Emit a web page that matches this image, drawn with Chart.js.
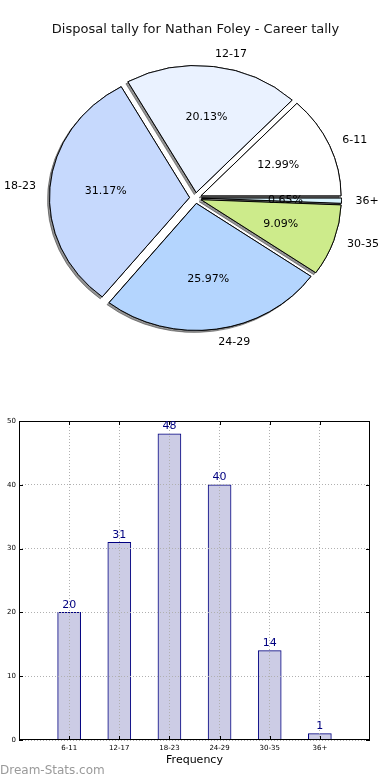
<!DOCTYPE html>
<html>
<head>
<meta charset="utf-8">
<script src="https://cdn.jsdelivr.net/npm/chart.js@4.4.1/dist/chart.umd.min.js"></script>
<style>
  html, body { margin: 0; padding: 0; background: #fff; }
  body { width: 390px; height: 780px; position: relative; overflow: hidden; }
  #pieBox { position: absolute; left: 0; top: 0; width: 390px; height: 400px; }
  #barBox { position: absolute; left: 0; top: 400px; width: 390px; height: 380px; }
  #mark { position: absolute; left: 0; top: 763px; font: 12px/14px "DejaVu Sans", sans-serif; color: #9a9a9a; }
</style>
</head>
<body>
<div id="pieBox"><canvas id="pie"></canvas></div>
<div id="barBox"><canvas id="bar"></canvas></div>
<div id="mark">Dream-Stats.com</div>
<script>
// datos de la gráfica
const ageGroups = ["6-11", "12-17", "18-23", "24-29", "30-35", "36+"];
const disposals = [20, 31, 48, 40, 14, 1];
const sliceColors = ["#ffffff", "#eaf2ff", "#c6d9fd", "#b4d5fe", "#cdeb8b", "#d9f5ff"];
const yTicks = [0, 10, 20, 30, 40, 50];

Chart.defaults.font.family = '"DejaVu Sans", sans-serif';
Chart.defaults.color = "#000";

// el pastel es algo achatado y con sectores separados
const pieSy = 127 / 140;
const explode = 6;

const pieDecor = {
  id: "pieDecor",
  beforeDatasetsDraw(chart) {
    const ctx = chart.ctx;
    const meta = chart.getDatasetMeta(0);
    const cx = meta.data[0].x;
    const cy = meta.data[0].y;

    const drawArcs = () => {
      meta.data.forEach((arc) => {
        const mid = (arc.startAngle + arc.endAngle) / 2;
        ctx.save();
        ctx.translate(Math.cos(mid) * explode, Math.sin(mid) * explode);
        arc.draw(ctx);
        ctx.restore();
      });
    };

    ctx.save();
    ctx.translate(cx, cy);
    ctx.scale(1, pieSy);
    ctx.translate(-cx, -cy);
    // primero las sombras, luego los sectores encima
    ctx.save();
    ctx.shadowColor = "rgba(60,60,60,0.55)";
    ctx.shadowOffsetX = -2;
    ctx.shadowOffsetY = 2;
    ctx.shadowBlur = 0;
    drawArcs();
    ctx.restore();
    drawArcs();
    ctx.restore();

    // etiquetas
    const data = chart.data.datasets[0].data;
    const total = data.reduce((a, b) => a + b, 0);
    ctx.save();
    ctx.fillStyle = "#000";
    ctx.font = '11px "DejaVu Sans"';
    ctx.textBaseline = "middle";
    meta.data.forEach((arc, i) => {
      const mid = (arc.startAngle + arc.endAngle) / 2;
      const c = Math.cos(mid);
      const s = Math.sin(mid);
      const r = arc.outerRadius;
      const at = (k) => [cx + c * (explode + k * r), cy + s * (explode + k * r) * pieSy];
      let [lx, ly] = at(1.1);
      ctx.textAlign = c >= 0 ? "left" : "right";
      ctx.fillText(chart.data.labels[i], lx, ly);
      [lx, ly] = at(0.6);
      ctx.textAlign = "center";
      ctx.fillText(((data[i] / total) * 100).toFixed(2) + "%", lx, ly);
    });
    ctx.restore();
    return false;
  },
};

new Chart(document.getElementById("pie"), {
  type: "pie",
  data: {
    // Chart.js gira en sentido horario, se invierte el orden
    labels: ageGroups.slice().reverse(),
    datasets: [
      {
        data: disposals.slice().reverse(),
        backgroundColor: sliceColors.slice().reverse(),
        borderColor: "#000",
        borderWidth: 1,
        radius: 140,
      },
    ],
  },
  options: {
    animation: false,
    events: [],
    responsive: true,
    maintainAspectRatio: false,
    rotation: 90,
    layout: { padding: { left: 1, right: 0, top: 0, bottom: 51.6 } },
    plugins: {
      legend: { display: false },
      tooltip: { enabled: false },
      title: {
        display: true,
        text: "Disposal tally for Nathan Foley - Career tally",
        color: "#111",
        font: { size: 13, weight: "normal" },
        padding: { top: 22, bottom: 10 },
      },
    },
  },
  plugins: [pieDecor],
});

// marco, marcas interiores y valores sobre las barras
const barDecor = {
  id: "barDecor",
  afterDraw(chart) {
    const { ctx, chartArea: a, scales } = chart;
    ctx.save();
    ctx.strokeStyle = "#000";
    ctx.lineWidth = 1;
    ctx.beginPath();
    scales.y.ticks.forEach((t) => {
      const py = Math.round(scales.y.getPixelForValue(t.value)) + 0.5;
      ctx.moveTo(a.left, py);
      ctx.lineTo(a.left + 4, py);
      ctx.moveTo(a.right, py);
      ctx.lineTo(a.right - 4, py);
    });
    scales.x.ticks.forEach((t) => {
      const px = Math.round(scales.x.getPixelForValue(t.value)) + 0.5;
      ctx.moveTo(px, a.bottom);
      ctx.lineTo(px, a.bottom - 4);
      ctx.moveTo(px, a.top);
      ctx.lineTo(px, a.top + 4);
    });
    ctx.stroke();
    ctx.strokeRect(Math.round(a.left) + 0.5, Math.round(a.top) + 0.5, Math.round(a.width) - 1, Math.round(a.height) - 1);

    ctx.fillStyle = "#000080";
    ctx.font = '11px "DejaVu Sans"';
    ctx.textAlign = "center";
    ctx.textBaseline = "bottom";
    chart.getDatasetMeta(0).data.forEach((bar, i) => {
      ctx.fillText(String(disposals[i]), bar.x, bar.y - 2);
    });
    ctx.restore();
  },
};

const gridStyle = { color: "#b0b0b0", lineWidth: 1, z: 1, drawTicks: false, offset: false };

new Chart(document.getElementById("bar"), {
  type: "bar",
  data: {
    datasets: [
      {
        data: disposals.map((v, i) => ({ x: i, y: v })),
        backgroundColor: "#ccccE5",
        borderColor: "#000080",
        borderWidth: 1,
        barThickness: 23,
      },
    ],
  },
  options: {
    animation: false,
    events: [],
    responsive: true,
    maintainAspectRatio: false,
    layout: { padding: { left: 0, right: 20, top: 21, bottom: 0 } },
    plugins: { legend: { display: false }, tooltip: { enabled: false } },
    scales: {
      x: {
        type: "linear",
        min: -1,
        max: 6,
        offset: false,
        afterBuildTicks: (s) => {
          s.ticks = ageGroups.map((_, i) => ({ value: i }));
        },
        afterFit: (s) => {
          s.height = 40;
        },
        ticks: {
          font: { size: 7 },
          padding: 4,
          maxRotation: 0,
          autoSkip: false,
          callback: (v) => ageGroups[v],
        },
        grid: gridStyle,
        border: { display: false, dash: [1, 2] },
        title: {
          display: true,
          text: "Frequency",
          font: { size: 11 },
          padding: { top: 0, bottom: 13 },
        },
      },
      y: {
        min: 0,
        max: 50,
        afterBuildTicks: (s) => {
          s.ticks = yTicks.map((v) => ({ value: v }));
        },
        afterFit: (s) => {
          s.width = 19;
        },
        ticks: { font: { size: 7 }, padding: 3 },
        grid: gridStyle,
        border: { display: false, dash: [1, 2] },
      },
    },
  },
  plugins: [barDecor],
});
</script>
</body>
</html>
